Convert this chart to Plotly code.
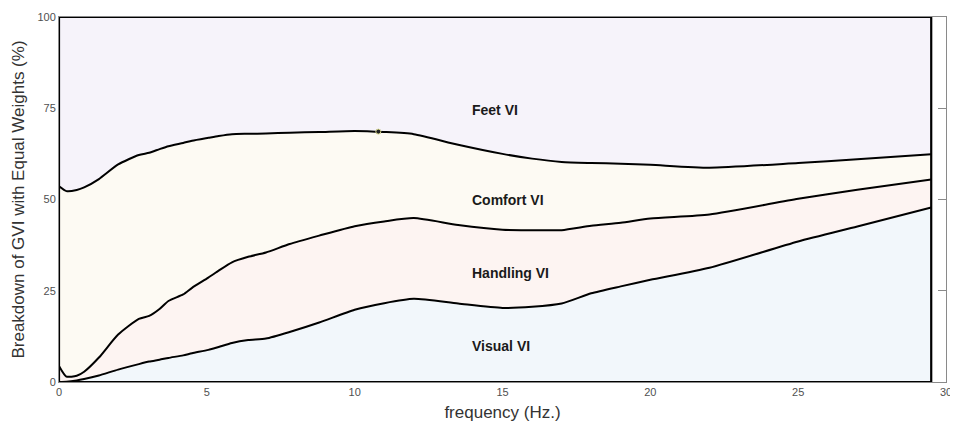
import plotly.graph_objects as go

# frequency grid (Hz)
freq = [0, 0.25, 0.6, 0.85, 1.35, 2.0, 2.7, 3.05, 3.4, 3.7, 4.2, 4.5, 5.05, 5.4, 5.85,
        6.4, 7.0, 7.8, 8.8, 10.0, 11.0, 12.0, 13.5, 15.0, 16.0, 17.0, 18.0, 19.0, 20.0,
        22.0, 25.0, 27.0, 29.5]

# cumulative boundaries (%)
visual_top = [0, 0.05, 0.4, 0.8, 1.8, 3.4, 4.9, 5.6, 6.1, 6.6, 7.3, 7.9, 8.8, 9.6, 10.7,
              11.5, 11.9, 13.7, 16.3, 19.8, 21.6, 22.8, 21.5, 20.3, 20.6, 21.5, 24.3, 26.2,
              28.0, 31.3, 38.5, 42.6, 47.8]
handling_top = [4.4, 1.5, 1.7, 2.8, 6.7, 13.0, 17.3, 18.1, 20.0, 22.2, 24.0, 25.8, 28.6,
                30.5, 32.8, 34.3, 35.5, 37.8, 40.1, 42.7, 44.0, 44.9, 43.0, 41.7, 41.6,
                41.6, 42.8, 43.6, 44.8, 45.9, 50.2, 52.7, 55.5]
comfort_top = [53.6, 52.3, 52.6, 53.3, 55.6, 59.6, 62.2, 62.8, 63.8, 64.6, 65.5, 66.1, 66.9,
               67.4, 67.9, 68.0, 68.1, 68.3, 68.5, 68.8, 68.5, 67.9, 65.0, 62.5, 61.2,
               60.3, 60.0, 59.8, 59.5, 58.7, 60.0, 61.0, 62.4]
feet_top = [100] * len(freq)
floor = [0] * len(freq)

region_names = ["Visual VI", "Handling VI", "Comfort VI", "Feet VI"]
region_colors = ["#F2F7FB", "#FDF4F2", "#FDFAF3", "#F6F3FA"]
label_x = [13.9, 13.9, 13.9, 13.9]
label_y = [10, 30, 50, 74.5]

datatip_x = [10.8]
datatip_y = [68.6]

bounds = [floor, visual_top, handling_top, comfort_top, feet_top]

fig = go.Figure()
# filled regions
for i, name in enumerate(region_names):
    lo, hi = bounds[i], bounds[i + 1]
    xs = list(freq) + list(reversed(freq))
    ys = list(hi) + list(reversed(lo))
    fig.add_trace(go.Scatter(
        x=xs, y=ys, mode="lines", fill="toself", fillcolor=region_colors[i],
        line=dict(width=0, color=region_colors[i]), name=name, showlegend=False,
        hoverinfo="skip"))

# boundary curves
for b in bounds[1:4]:
    fig.add_trace(go.Scatter(
        x=freq, y=b, mode="lines", showlegend=False, cliponaxis=False,
        line=dict(color="black", width=2, shape="spline", smoothing=0.6),
        hoverinfo="skip"))

# outer frame of the stacked areas
x_end = freq[-1]
fig.add_trace(go.Scatter(
    x=[freq[0], x_end, x_end, freq[0], freq[0]],
    y=[floor[0], floor[-1], feet_top[-1], feet_top[0], floor[0]],
    mode="lines", showlegend=False, cliponaxis=False,
    line=dict(color="black", width=2.2), hoverinfo="skip"))

fig.add_trace(go.Scatter(
    x=datatip_x, y=datatip_y, mode="markers", showlegend=False, cliponaxis=False,
    marker=dict(size=5, color="#222222", line=dict(color="#d8d890", width=1))))

for name, lx, ly in zip(region_names, label_x, label_y):
    fig.add_annotation(x=lx, y=ly, text="<b>%s</b>" % name, showarrow=False,
                       xanchor="left", yanchor="middle",
                       font=dict(family="Liberation Sans", size=14, color="#1a1a1a"))

axis_common = dict(showline=True, linecolor="#8a8a8a", linewidth=1, mirror="ticks",
                   ticks="inside", ticklen=8, tickcolor="#8a8a8a", showgrid=False,
                   zeroline=False, layer="below traces", automargin=False,
                   tickfont=dict(family="Liberation Sans", size=11, color="#505050"))

fig.update_layout(
    width=950, height=415,
    margin=dict(l=51, r=12, t=9, b=41),
    paper_bgcolor="white", plot_bgcolor="white",
    font=dict(family="Liberation Sans", color="#333333"),
    xaxis=dict(range=[0, 30], tickvals=[0, 5, 10, 15, 20, 25, 30],
               title=dict(text="frequency (Hz.)", standoff=8,
                          font=dict(size=17, color="#333333")),
               **axis_common),
    yaxis=dict(range=[0, 100], tickvals=[0, 25, 50, 75, 100],
               title=dict(text="Breakdown of GVI with Equal Weights (%)", standoff=8,
                          font=dict(size=17, color="#333333")),
               **axis_common),
)

fig.write_html("out.html")
